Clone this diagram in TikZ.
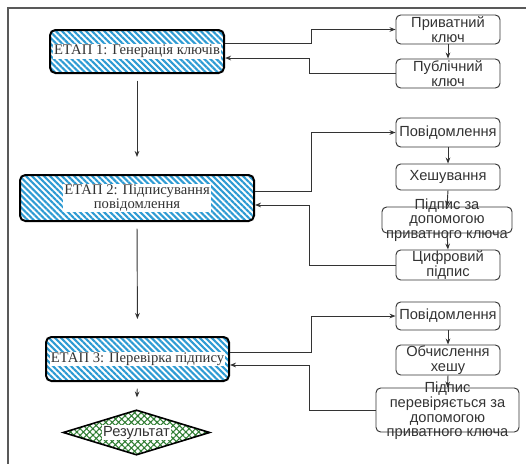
\documentclass[tikz,border=0pt]{standalone}
\usepackage{fontspec}
\setmainfont{Liberation Serif}
\setsansfont{Liberation Sans}
\usetikzlibrary{arrows.meta,patterns.meta,shapes.geometric}

\definecolor{stripe}{HTML}{2E9BD3}
\definecolor{hatchgreen}{HTML}{2F7D32}
\definecolor{ink}{HTML}{333333}

\begin{document}
\begin{tikzpicture}[x=0.75pt,y=-0.75pt,
  stage/.style={draw=black, line width=1.5pt, rounded corners=4pt, inner sep=0pt,
    pattern={Lines[angle=-45,distance=3.2pt,line width=1.6pt]}, pattern color=stripe},
  stagetext/.style={fill=white, inner sep=0.6pt, text=ink, align=center,
    font=\fontsize{11}{10.7}\selectfont},
  box/.style={draw=ink, line width=0.7pt, rounded corners=3.5pt, inner sep=0pt,
    text=ink, align=center, font=\sffamily\fontsize{11}{11}\selectfont,
    minimum width=78pt},
  boxtext/.style={inner sep=0pt, text=ink, align=center,
    font=\sffamily\fontsize{11}{11}\selectfont},
  arr/.style={draw=ink, line width=0.7pt, -{Stealth[length=4.5pt,width=3.5pt]}},
  decision/.style={shape=diamond, draw=black, line width=1.2pt, inner sep=0pt,
    aspect=3.27, minimum width=110pt, minimum height=33.75pt,
    pattern={Hatch[angle=45,distance=3.4pt,line width=0.8pt]}, pattern color=hatchgreen}]
\useasboundingbox (0,0) rectangle (526,464);

% page frame
\draw[gray!70!black, line width=1pt] (8,470) -- (8,8) -- (530,8);

% ---- stage blocks (left column)
\node[stage, minimum width=130.5pt, minimum height=32.25pt] (S1) at (137,51.5) {};
\node[stagetext] at (S1) {ЕТАП 1: Генерація ключів};

\node[stage, minimum width=175.5pt, minimum height=34.5pt] (S2) at (137,198) {};
\node[stagetext] at (S2) {ЕТАП 2: Підписування\\повідомлення};

\node[stage, minimum width=137.25pt, minimum height=33pt] (S3) at (137.5,359) {};
\node[stagetext] at (S3) {ЕТАП 3: Перевірка підпису};

\node[decision] (D) at (136.5,432.5) {};
\node[boxtext, fill=white, inner sep=0.6pt] at (D) {Результат};

% ---- stage 1: keys
\node[box, minimum height=21.75pt] (P1) at (448,29.5) {Приватний\\ключ};
\node[box, minimum height=21.75pt] (P2) at (448,73.5) {Публічний\\ключ};

% ---- stage 2: signing
\node[box, minimum height=21.75pt] (M1) at (448,132.5) {Повідомлення};
\node[box, minimum height=19.5pt] (M2) at (448,177) {Хешування};
\node[box, minimum width=97.5pt, minimum height=19.5pt] (M3) at (447,220) {};
\node[boxtext] at (M3) {Підпис за\\допомогою\\приватного ключа};
\node[box, minimum height=22.5pt] (M4) at (448,265) {Цифровий\\підпис};

% ---- stage 3: verification
\node[box, minimum height=21pt] (V1) at (448,316) {Повідомлення};
\node[box, minimum height=22.5pt] (V2) at (448,360) {Обчислення\\хешу};
\node[box, minimum width=107.25pt, minimum height=33pt] (V3) at (447.5,410) {};
\node[boxtext, yshift=-0.8pt] at (V3) {Підпис\\перевіряється за\\допомогою\\приватного ключа};

% ---- main flow
\draw[arr, shorten <=5pt, shorten >=12.75pt] (S1.south) -- (S2.north);
\draw[arr, shorten <=5pt, shorten >=12.75pt] (S2.south) -- (S3.north);
\draw[arr, shorten <=5pt, shorten >=9pt] (S3.south) -- (D.north);

% ---- chains inside each stage
\draw[arr] (P1.south) -- (P2.north);
\draw[arr] (M1.south) -- (M2.north);
\draw[arr] (M2.south) -- (M3.north);
\draw[arr] (M3.south) -- (M4.north);
\draw[arr] (V1.south) -- (V2.north);
\draw[arr] (V2.south) -- (V3.north);

% ---- links between stages and their steps
\draw[arr] ([yshift=6.4pt]S1.east) -- ++(86,0) |- (P1.west);
\draw[arr] (P2.west) -- ++(-86,0) |- ([yshift=-4.9pt]S1.east);

\draw[arr] ([yshift=5.25pt]S2.east) -- ++(56,0) |- (M1.west);
\draw[arr] (M4.west) -- ++(-86,0) |- ([yshift=-5.25pt]S2.east);

\draw[arr] ([yshift=5.25pt]S3.east) -- ++(81,0) |- (V1.west);
\draw[arr] (V3.west) -- ++(-66,0) |- ([yshift=-4.5pt]S3.east);
\end{tikzpicture}
\end{document}
